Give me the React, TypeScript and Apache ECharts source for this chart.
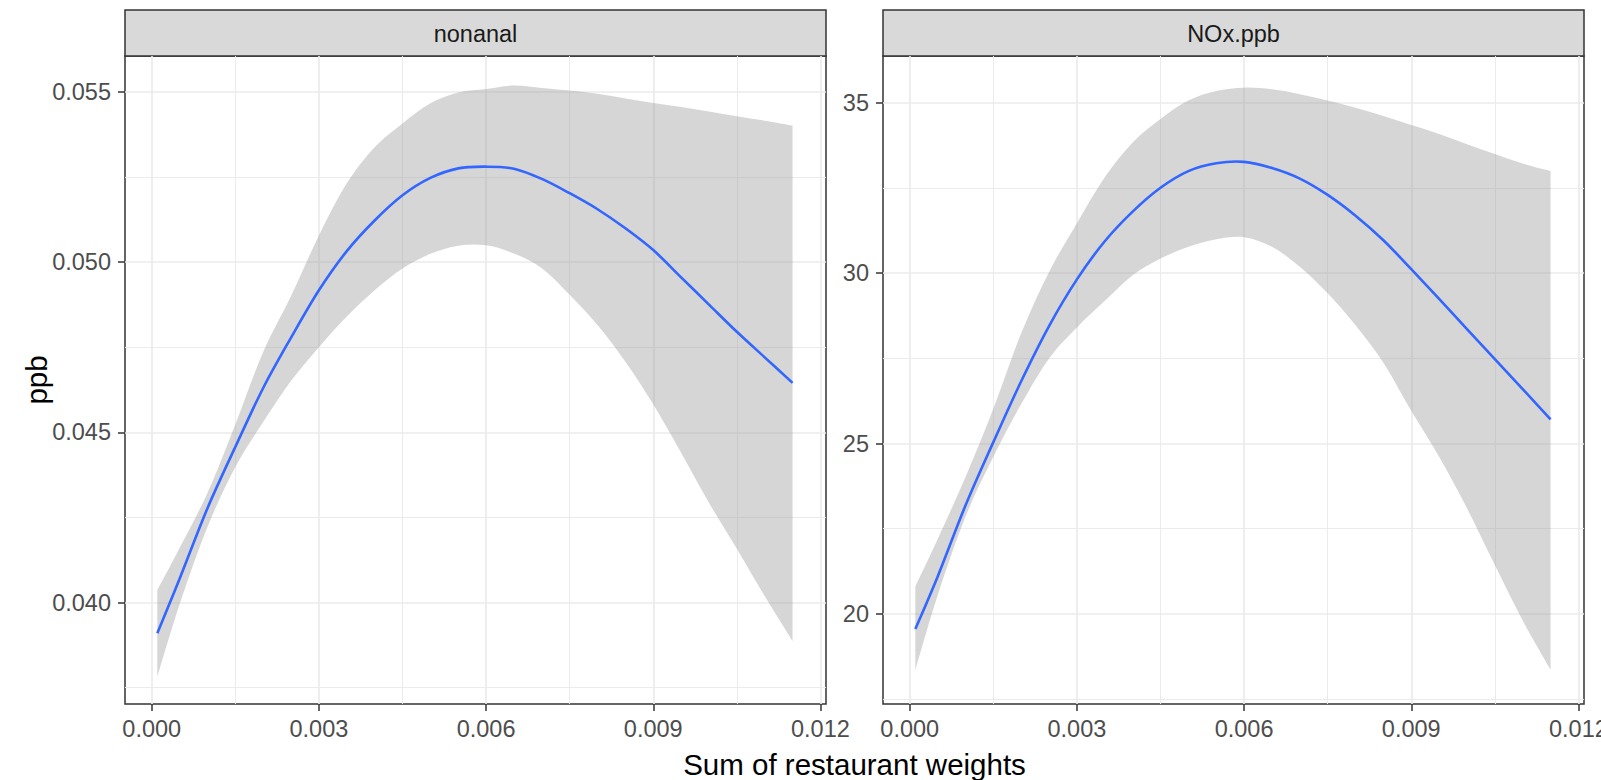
import React, { useEffect, useRef } from 'react';
import * as echarts from 'echarts';

// ---- data ----
const xValues = [
  0.0001, 0.0005, 0.001, 0.0015, 0.002, 0.0025, 0.003, 0.0035, 0.004, 0.0045, 0.005, 0.0055,
  0.006, 0.0065, 0.007, 0.0075, 0.008, 0.0085, 0.009, 0.0095, 0.01, 0.0105, 0.011, 0.0115,
];

const nonanalFit = [
  0.0391, 0.0407, 0.04277, 0.04457, 0.0463, 0.04778, 0.04917, 0.05032, 0.05122, 0.05196, 0.05247, 0.05275,
  0.0528, 0.05274, 0.05244, 0.05202, 0.05155, 0.05099, 0.05035, 0.04955, 0.04875, 0.04795, 0.0472, 0.04645,
];
const nonanalUpper = [
  0.04036, 0.0416, 0.04322, 0.04523, 0.04736, 0.049, 0.05078, 0.05231, 0.05337, 0.05407, 0.05466, 0.05498,
  0.05508, 0.05518, 0.05511, 0.05504, 0.05494, 0.0548, 0.05467, 0.05455, 0.05442, 0.05428, 0.05415, 0.05401,
];
const nonanalLower = [
  0.03782, 0.03995, 0.04222, 0.04398, 0.0453, 0.04651, 0.0475, 0.0484, 0.04917, 0.04981, 0.05024, 0.05048,
  0.05049, 0.05025, 0.04982, 0.04904, 0.04815, 0.04707, 0.04582, 0.0444, 0.04293, 0.04158, 0.04019, 0.03887,
];

const noxFit = [
  19.55, 21.09, 23.18, 25.04, 26.83, 28.45, 29.82, 30.94, 31.81, 32.51, 33.0, 33.23,
  33.27, 33.09, 32.78, 32.3, 31.69, 30.97, 30.12, 29.25, 28.36, 27.48, 26.6, 25.71,
];
const noxUpper = [
  20.8, 22.19, 24.02, 26.02, 28.24, 30.04, 31.47, 32.82, 33.84, 34.53, 35.07, 35.35,
  35.45, 35.4, 35.26, 35.07, 34.86, 34.62, 34.35, 34.09, 33.79, 33.5, 33.22, 33.0,
];
const noxLower = [
  18.35, 20.54, 22.85, 24.61, 26.16, 27.5, 28.41, 29.19, 29.94, 30.43, 30.78, 31.0,
  31.06, 30.78, 30.19, 29.41, 28.47, 27.37, 25.96, 24.61, 23.1, 21.43, 19.8, 18.36,
];

const panelTitles = ['nonanal', 'NOx.ppb'];
const xTicks = [0, 0.003, 0.006, 0.009, 0.012];
const xMinorTicks = [0.0015, 0.0045, 0.0075, 0.0105];
const xRange = [-0.00048, 0.0121];
const nonanalTicks = [0.04, 0.045, 0.05, 0.055];
const nonanalMinorTicks = [0.0375, 0.0425, 0.0475, 0.0525];
const nonanalRange = [0.03702, 0.05605];
const noxTicks = [20, 25, 30, 35];
const noxMinorTicks = [17.5, 22.5, 27.5, 32.5];
const noxRange = [17.35, 36.38];
const xTitle = 'Sum of restaurant weights';
const yTitle = 'ppb';

// ---- styling / layout ----
const FONT = "'Liberation Sans', Arial, Helvetica, sans-serif";
const PANEL_TOP = 56;
const PANEL_H = 648;
const PANEL_W = 701;
const PANEL_LEFTS = [125, 883];
const STRIP_TOP = 10;
const STRIP_H = PANEL_TOP - STRIP_TOP;

function splinePath(pts: number[][]): string {
  let d = '';
  for (let i = 0; i < pts.length - 1; i++) {
    const p0 = pts[i - 1] || pts[i];
    const p1 = pts[i];
    const p2 = pts[i + 1];
    const p3 = pts[i + 2] || p2;
    const c1x = p1[0] + (p2[0] - p0[0]) / 6;
    const c1y = p1[1] + (p2[1] - p0[1]) / 6;
    const c2x = p2[0] - (p3[0] - p1[0]) / 6;
    const c2y = p2[1] - (p3[1] - p1[1]) / 6;
    d += ` C${c1x} ${c1y} ${c2x} ${c2y} ${p2[0]} ${p2[1]}`;
  }
  return d;
}

function ribbonRender(params: any, api: any) {
  if (params.dataIndexInside !== 0) return null;
  const n = params.dataInsideLength;
  const up: number[][] = [];
  const lo: number[][] = [];
  for (let k = 0; k < n; k++) {
    up.push(api.coord([api.value(0, k), api.value(2, k)]));
    lo.push(api.coord([api.value(0, k), api.value(1, k)]));
  }
  const loRev = lo.slice().reverse();
  const d =
    `M${up[0][0]} ${up[0][1]}` +
    splinePath(up) +
    ` L${loRev[0][0]} ${loRev[0][1]}` +
    splinePath(loRev) +
    ' Z';
  return {
    type: 'path',
    shape: { pathData: d },
    style: { fill: 'rgba(153,153,153,0.4)', stroke: 'none' },
  };
}

function fitRender(params: any, api: any) {
  if (params.dataIndexInside !== 0) return null;
  const n = params.dataInsideLength;
  const pts: number[][] = [];
  for (let k = 0; k < n; k++) {
    pts.push(api.coord([api.value(0, k), api.value(1, k)]));
  }
  const d = `M${pts[0][0]} ${pts[0][1]}` + splinePath(pts);
  return {
    type: 'path',
    shape: { pathData: d },
    style: { fill: 'none', stroke: '#3366FF', lineWidth: 2.6, lineJoin: 'round', lineCap: 'butt' },
  };
}

export default function App() {
  const ref = useRef<HTMLDivElement>(null);

  useEffect(() => {
    document.body.style.margin = '0';
    document.body.style.overflow = 'hidden';
    if (!ref.current) return;
    const chart = echarts.init(ref.current, null, { renderer: 'svg' });

    const panels = [
      { fit: nonanalFit, upper: nonanalUpper, lower: nonanalLower, ticks: nonanalTicks, minor: nonanalMinorTicks, range: nonanalRange, fmt: (v: number) => v.toFixed(3) },
      { fit: noxFit, upper: noxUpper, lower: noxLower, ticks: noxTicks, minor: noxMinorTicks, range: noxRange, fmt: (v: number) => String(Math.round(v)) },
    ];

    const grids: any[] = [];
    const xAxes: any[] = [];
    const yAxes: any[] = [];
    const series: any[] = [];
    const graphics: any[] = [];

    const gridLineColor = '#EBEBEB';
    const tickStyle = { color: '#333333', width: 1.5 };
    const labelStyle = { color: '#4D4D4D', fontSize: 23.5, fontFamily: FONT };

    panels.forEach((p, i) => {
      grids.push({
        left: PANEL_LEFTS[i],
        top: PANEL_TOP,
        width: PANEL_W,
        height: PANEL_H,
        show: true,
        backgroundColor: '#FFFFFF',
        borderColor: '#333333',
        borderWidth: 1.5,
        containLabel: false,
        outerBoundsMode: 'none',
      });
      // minor grid axes
      xAxes.push({
        type: 'value', gridIndex: i, min: xRange[0], max: xRange[1], position: 'top',
        axisLine: { show: false, onZero: false }, axisLabel: { show: false },
        axisTick: { show: false, customValues: xMinorTicks },
        splitLine: { show: true, lineStyle: { color: gridLineColor, width: 1 } },
      });
      yAxes.push({
        type: 'value', gridIndex: i, min: p.range[0], max: p.range[1], position: 'right',
        axisLine: { show: false, onZero: false }, axisLabel: { show: false },
        axisTick: { show: false, customValues: p.minor },
        splitLine: { show: true, lineStyle: { color: gridLineColor, width: 1 } },
      });
      // main axes
      xAxes.push({
        type: 'value', gridIndex: i, min: xRange[0], max: xRange[1], position: 'bottom',
        axisLine: { show: false, onZero: false },
        axisTick: { show: true, length: 7, lineStyle: tickStyle, customValues: xTicks },
        axisLabel: { ...labelStyle, margin: 13, customValues: xTicks, formatter: (v: number) => v.toFixed(3) },
        splitLine: { show: true, lineStyle: { color: gridLineColor, width: 1.7 } },
      });
      yAxes.push({
        type: 'value', gridIndex: i, min: p.range[0], max: p.range[1], position: 'left',
        axisLine: { show: false, onZero: false },
        axisTick: { show: true, length: 7, lineStyle: tickStyle, customValues: p.ticks },
        axisLabel: { ...labelStyle, margin: 14, customValues: p.ticks, formatter: p.fmt },
        splitLine: { show: true, lineStyle: { color: gridLineColor, width: 1.7 } },
      });

      const xAxisIndex = i * 2 + 1;
      const yAxisIndex = i * 2 + 1;
      series.push({
        type: 'custom',
        xAxisIndex, yAxisIndex,
        z: 2,
        silent: true,
        renderItem: ribbonRender,
        encode: { x: 0, y: [1, 2] },
        data: xValues.map((x, k) => [x, p.lower[k], p.upper[k]]),
      });
      series.push({
        type: 'custom',
        xAxisIndex, yAxisIndex,
        z: 3,
        silent: true,
        renderItem: fitRender,
        encode: { x: 0, y: 1 },
        data: xValues.map((x, k) => [x, p.fit[k]]),
      });

      // facet strip
      graphics.push({
        type: 'rect',
        shape: { x: PANEL_LEFTS[i], y: STRIP_TOP, width: PANEL_W, height: STRIP_H },
        style: { fill: '#D9D9D9', stroke: '#333333', lineWidth: 1.5 },
      });
      graphics.push({
        type: 'text',
        x: PANEL_LEFTS[i] + PANEL_W / 2,
        y: STRIP_TOP + STRIP_H / 2 + 1,
        style: {
          text: panelTitles[i], fill: '#1A1A1A', fontSize: 23.5, fontFamily: FONT,
          textAlign: 'center', textVerticalAlign: 'middle',
        },
      });
    });

    graphics.push({
      type: 'text',
      x: (PANEL_LEFTS[0] + PANEL_LEFTS[1] + PANEL_W) / 2,
      y: 764,
      style: {
        text: xTitle, fill: '#000000', fontSize: 29.5, fontFamily: FONT,
        textAlign: 'center', textVerticalAlign: 'middle',
      },
    });
    graphics.push({
      type: 'text',
      x: 36,
      y: PANEL_TOP + PANEL_H / 2,
      rotation: Math.PI / 2,
      style: {
        text: yTitle, fill: '#000000', fontSize: 29.5, fontFamily: FONT,
        textAlign: 'center', textVerticalAlign: 'middle',
      },
    });

    chart.setOption({
      animation: false,
      backgroundColor: '#FFFFFF',
      grid: grids,
      xAxis: xAxes,
      yAxis: yAxes,
      series,
      graphic: graphics,
    });

    return () => chart.dispose();
  }, []);

  return <div ref={ref} style={{ width: 1601, height: 780 }} />;
}
